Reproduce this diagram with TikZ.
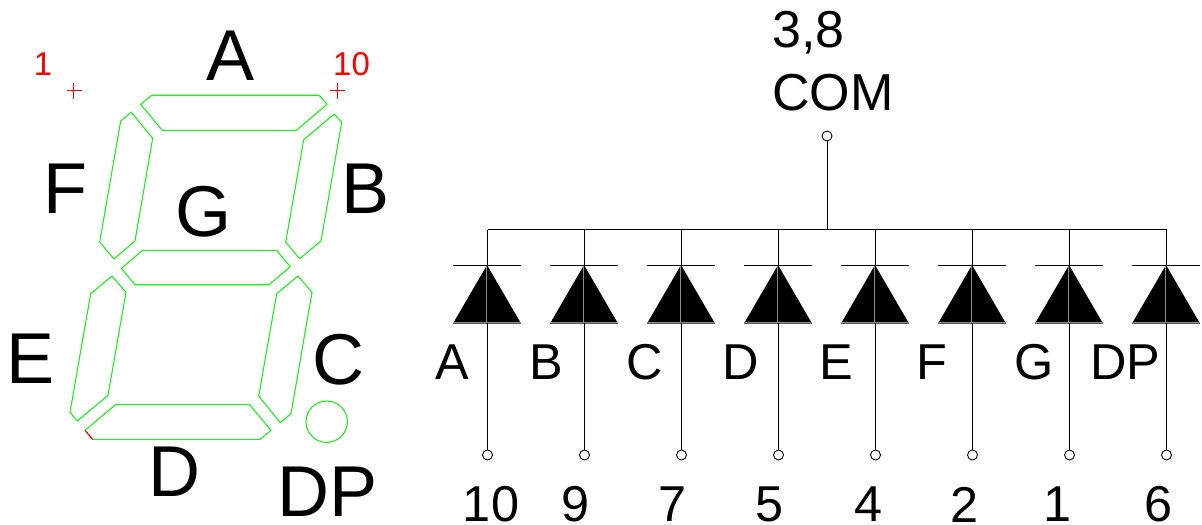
\documentclass[tikz,border=0pt]{standalone}
\usepackage{fontspec}
\setmainfont{Liberation Sans}
\definecolor{segcol}{RGB}{30,240,30}
\tikzset{
  seg/.style={draw=segcol,line width=0.55pt,line join=round},
  redmark/.style={draw=red,line width=0.5pt},
  wire/.style={draw=black,line width=0.5pt},
  thinbar/.style={draw=black,line width=0.5pt},
  inner line/.style={draw=black!45,line width=0.5pt},
  pinc/.style={circle,draw=black,fill=white,line width=0.45pt,inner sep=0pt,minimum size=5pt},
  big/.style={font=\fontsize{36}{36}\selectfont,text=black,inner sep=0pt},
  mid/.style={font=\fontsize{26}{26}\selectfont,text=black,inner sep=0pt},
  sml/.style={font=\fontsize{25.2}{25.2}\selectfont,text=black,inner sep=0pt},
  num/.style={font=\fontsize{25.2}{25.2}\selectfont,text=black,inner sep=0pt},
  redt/.style={font=\fontsize{16.5}{16.5}\selectfont,text=red,inner sep=0pt},
}
\begin{document}
\begin{tikzpicture}[x=0.5pt,y=-0.5pt]
\useasboundingbox (0,0) rectangle (1202,524);
% seven-segment outline
\path[seg] (140.7,104.3) -- (151.7,95.3) -- (319,95.3) -- (327,104.3) -- (296.3,130.3) -- (162.3,130.3) -- cycle;
\path[seg] (131.3,112.3) -- (152.7,138.3) -- (135,241) -- (114,259) -- (99.7,242) -- (120.7,121) -- cycle;
\path[seg] (334.3,114) -- (341.7,122.3) -- (321,241) -- (299.7,258.7) -- (285.7,242) -- (303.7,139.7) -- cycle;
\path[seg] (121.3,268.3) -- (142.7,250.3) -- (276.7,250.3) -- (290.3,266.7) -- (269,284.7) -- (135,284.7) -- cycle;
\path[seg] (112,276) -- (126,292.3) -- (108,395.3) -- (77.3,421) -- (70,412.3) -- (90.7,293.7) -- cycle;
\path[seg] (298,276) -- (312,292.3) -- (291,413.7) -- (280.3,422.7) -- (258.7,396) -- (276.7,293.7) -- cycle;
\path[seg] (92.7,439.3) -- (85,430.3) -- (116,404.3) -- (249.3,404.3) -- (271,430.3) -- (260.3,439.3) -- cycle;
\path[redmark,line width=0.55pt] (85,430.3) -- (92.7,439.3);
\node[seg,circle,inner sep=0pt,minimum size=20.7pt] (dpseg) at (326.7,421.7) {};
% pin-one marks
\path[redmark] (66.5,91) -- (81.5,91) (73.5,83.5) -- (73.5,98.5);
\path[redmark] (330,91) -- (345,91) (337.5,83.5) -- (337.5,98.5);
\node[redt] (r1) at (43,64) {1};
\node[redt] (r10) at (351.5,64) {10};
% segment letters
\node[big] (la) at (231,56) {A};
\node[big] (lf) at (65,189) {F};
\node[big] (lg) at (203,212) {G};
\node[big] (lb) at (366,189) {B};
\node[big] (le) at (31,359) {E};
\node[big] (lc) at (338,360) {C};
\node[big] (ld) at (174.5,472) {D};
\node[big] (ldp) at (327.5,492) {DP};
% common
\node[mid,anchor=west] (t38) at (772,33) {3,8};
\node[mid,anchor=west] (tcom) at (772,93) {COM};
\node[pinc] (com) at (827,136) {};
\coordinate (busl) at (487.5,229.5);
\coordinate (busr) at (1166.5,229.5);
\coordinate (busc) at (827,229.5);
\draw[wire] (busl) -- (busr);
\draw[wire] (com) -- (busc);
% diodes
\foreach \n/\x/\l/\lx/\p/\px in {
  a/487.5/A/452/10/491,
  b/584.5/B/546/9/576,
  c/681.5/C/645/7/673,
  d/778.5/D/741/5/769,
  e/875.5/E/836/4/868,
  f/972.5/F/932/2/964,
  g/1069.5/G/1034/1/1057,
  h/1166.5/DP/1125.5/6/1158}{
  \coordinate (top\n) at (\x,229.5);
  \coordinate (k\n) at (\x-0.5,265);
  \coordinate (bl\n) at (\x-34.5,323.5);
  \coordinate (br\n) at (\x+33.5,323.5);
  \coordinate (b\n) at (\x,323);
  \node[pinc] (pin\n) at (\x,455) {};
  \draw[wire] (top\n) -- (\x,265);
  \draw[wire] (b\n) -- (pin\n);
  \fill[black] (k\n) -- (br\n) -- (bl\n) -- cycle;
  \draw[thinbar] (\x-34.5,265) -- (\x+33.5,265);
  \draw[inner line] (\x-1,266) -- (\x-1,322) (\x-33.5,322.5) -- (\x+32.5,322.5);
  \node[sml] (lab\n) at (\lx,362.5) {\l};
  \node[num] (num\n) at (\px,504.5) {\p};
}
\end{tikzpicture}
\end{document}
